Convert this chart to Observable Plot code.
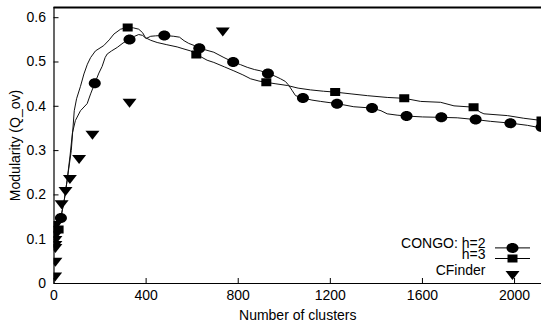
<!DOCTYPE html>
<html>
<head>
<meta charset="utf-8">
<script src="https://cdn.jsdelivr.net/npm/d3@7"></script>
<script src="https://cdn.jsdelivr.net/npm/@observablehq/plot@0.6"></script>
<style>
  html, body { margin: 0; padding: 0; background: #fff; }
  #chart svg { display: block; }
</style>
</head>
<body>
<div id="chart"></div>
<script>
// ---- data ----
const xTicks = [0, 400, 800, 1200, 1600, 2000];
const yTicks = [0, 0.1, 0.2, 0.3, 0.4, 0.5, 0.6];
const xMax = 2117;
const yMax = 0.623;

// CONGO h=2 curve
const h2X = [12, 30, 45, 57, 70, 80, 93, 115, 144, 159, 177, 195, 209, 222, 231, 250, 275, 300, 328, 350, 368, 385, 400, 420, 441, 479, 520, 545, 565, 585, 610, 631, 660, 694, 738, 778, 810, 839, 870, 897, 929, 960, 984, 1005, 1020, 1035, 1049, 1081, 1120, 1158, 1229, 1302, 1381, 1420, 1447, 1490, 1531, 1600, 1682, 1751, 1831, 1896, 1982, 2056, 2117];
const h2Y = [0.12, 0.148, 0.19, 0.233, 0.29, 0.34, 0.368, 0.39, 0.406, 0.428, 0.452, 0.475, 0.49, 0.51, 0.518, 0.525, 0.533, 0.543, 0.551, 0.558, 0.562, 0.56, 0.553, 0.558, 0.559, 0.56, 0.558, 0.556, 0.548, 0.542, 0.537, 0.531, 0.527, 0.522, 0.51, 0.5, 0.494, 0.488, 0.483, 0.48, 0.474, 0.468, 0.462, 0.456, 0.447, 0.435, 0.424, 0.419, 0.414, 0.411, 0.406, 0.399, 0.396, 0.39, 0.383, 0.38, 0.378, 0.376, 0.375, 0.374, 0.37, 0.366, 0.362, 0.357, 0.351];
// CONGO h=3 curve
const h3X = [12, 30, 45, 57, 75, 88, 98, 115, 130, 145, 159, 180, 216, 240, 260, 289, 320, 345, 368, 385, 397, 420, 448, 490, 535, 560, 593, 618, 637, 665, 694, 740, 781, 820, 854, 890, 922, 960, 1013, 1060, 1114, 1170, 1221, 1290, 1361, 1447, 1521, 1592, 1679, 1737, 1822, 1850, 1867, 1969, 2040, 2117];
const h3Y = [0.115, 0.15, 0.19, 0.233, 0.3, 0.39, 0.417, 0.445, 0.473, 0.495, 0.51, 0.525, 0.537, 0.55, 0.563, 0.574, 0.578, 0.577, 0.574, 0.566, 0.555, 0.549, 0.544, 0.539, 0.534, 0.53, 0.525, 0.517, 0.512, 0.504, 0.499, 0.489, 0.48, 0.471, 0.462, 0.457, 0.454, 0.451, 0.447, 0.441, 0.437, 0.434, 0.432, 0.428, 0.424, 0.42, 0.418, 0.411, 0.409, 0.401, 0.398, 0.387, 0.383, 0.379, 0.373, 0.368];

// point markers
const h2MarkX = [30, 177, 328, 479, 631, 778, 929, 1081, 1229, 1381, 1531, 1682, 1831, 1982, 2117];
const h2MarkY = [0.148, 0.452, 0.551, 0.56, 0.531, 0.5, 0.474, 0.419, 0.406, 0.396, 0.378, 0.375, 0.37, 0.362, 0.353];
const h3MarkX = [20, 320, 618, 922, 1221, 1521, 1822, 2117];
const h3MarkY = [0.122, 0.578, 0.517, 0.454, 0.432, 0.418, 0.398, 0.368];
const cfX = [5, 6, 6, 6, 6, 6, 7, 8, 33, 50, 69, 109, 167, 328, 733];
const cfY = [0.016, 0.049, 0.08, 0.087, 0.098, 0.109, 0.12, 0.132, 0.179, 0.209, 0.236, 0.281, 0.336, 0.408, 0.569];

const legendLabels = ["CONGO: h=2", "h=3", "CFinder"];

// ---- build tables ----
const zip = (xs, ys) => xs.map((x, i) => ({x, y: ys[i]}));
const h2Line = zip(h2X, h2Y), h3Line = zip(h3X, h3Y);
const h2Marks = zip(h2MarkX, h2MarkY), h3Marks = zip(h3MarkX, h3MarkY), cfMarks = zip(cfX, cfY);

// ---- custom marker shapes ----
const ellipse = {draw(ctx) {
  const rx = 6, ry = 5, k = 0.5523;
  ctx.moveTo(rx, 0);
  ctx.bezierCurveTo(rx, ry * k, rx * k, ry, 0, ry);
  ctx.bezierCurveTo(-rx * k, ry, -rx, ry * k, -rx, 0);
  ctx.bezierCurveTo(-rx, -ry * k, -rx * k, -ry, 0, -ry);
  ctx.bezierCurveTo(rx * k, -ry, rx, -ry * k, rx, 0);
  ctx.closePath();
}};
const box = {draw(ctx) {
  ctx.moveTo(-5, -4); ctx.lineTo(5, -4); ctx.lineTo(5, 4); ctx.lineTo(-5, 4); ctx.closePath();
}};
const triDown = {draw(ctx) {
  ctx.moveTo(-7, -4); ctx.lineTo(7, -4); ctx.lineTo(0, 5); ctx.closePath();
}};
const seg = {draw(ctx) { ctx.moveTo(-17.5, 0); ctx.lineTo(17.5, 0); }};

const W = 541, H = 324, mL = 53.5, mR = 0, mT = 7, mB = 41;
const innerW = W - mL - mR, innerH = H - mT - mB;
const ink = "#000";

const chart = Plot.plot({
  width: W, height: H,
  marginLeft: mL, marginRight: mR, marginTop: mT, marginBottom: mB,
  style: {fontFamily: "'Liberation Sans', Arial, Helvetica, sans-serif", fontSize: "14px", color: ink, background: "#fff"},
  x: {domain: [0, xMax]},
  y: {domain: [0, yMax]},
  marks: [
    Plot.axisX({ticks: xTicks, tickSize: 0, tickPadding: 7, tickFormat: d => String(d),
      label: "Number of clusters", labelAnchor: "center", labelOffset: 36, labelArrow: "none", fontSize: 14}),
    Plot.axisY({ticks: yTicks, tickSize: 0, tickPadding: 8, tickFormat: d => d === 0 ? "0" : d.toFixed(1),
      label: "Modularity (Q_ov)", labelAnchor: "center", labelOffset: 44, labelArrow: "none", fontSize: 14}),
    // inward tick marks
    Plot.tickX(xTicks, {x: d => d, insetTop: innerH - 5, stroke: ink, strokeWidth: 1}),
    Plot.tickY(yTicks, {y: d => d, insetRight: innerW - 5, stroke: ink, strokeWidth: 1}),
    // frame: left, bottom, top
    Plot.ruleX([0], {stroke: ink, strokeWidth: 1.2}),
    Plot.ruleY([0], {stroke: ink, strokeWidth: 1.2}),
    Plot.ruleY([yMax], {stroke: ink, strokeWidth: 1.8}),
    // curves
    Plot.line(h2Line, {x: "x", y: "y", stroke: "#111", strokeWidth: 1, clip: true}),
    Plot.line(h3Line, {x: "x", y: "y", stroke: "#111", strokeWidth: 1, clip: true}),
    // markers
    Plot.dot(cfMarks, {x: "x", y: "y", symbol: triDown, fill: ink, stroke: "none", clip: true}),
    Plot.dot(h2Marks, {x: "x", y: "y", symbol: ellipse, fill: ink, stroke: "none", clip: true}),
    Plot.dot(h3Marks, {x: "x", y: "y", symbol: box, fill: ink, stroke: "none", clip: true}),
    // legend
    Plot.text(legendLabels, {text: d => d, frameAnchor: "bottom-right", textAnchor: "end",
      dx: -56, dy: (d, i) => 0, fontSize: 14, fill: ink, filter: (d, i) => i === 0, dy: -35.6}),
    Plot.text(legendLabels, {text: d => d, frameAnchor: "bottom-right", textAnchor: "end",
      dx: -56, fontSize: 14, fill: ink, filter: (d, i) => i === 1, dy: -25}),
    Plot.text(legendLabels, {text: d => d, frameAnchor: "bottom-right", textAnchor: "end",
      dx: -56, fontSize: 14, fill: ink, filter: (d, i) => i === 2, dy: -8.5}),
    Plot.dot(legendLabels.slice(0, 1), {frameAnchor: "bottom-right", dx: -29, dy: -35.6, symbol: seg, fill: "none", stroke: ink, strokeWidth: 1}),
    Plot.dot(legendLabels.slice(0, 1), {frameAnchor: "bottom-right", dx: -29, dy: -35.6, symbol: ellipse, fill: ink, stroke: "none"}),
    Plot.dot(legendLabels.slice(1, 2), {frameAnchor: "bottom-right", dx: -29, dy: -25, symbol: seg, fill: "none", stroke: ink, strokeWidth: 1}),
    Plot.dot(legendLabels.slice(1, 2), {frameAnchor: "bottom-right", dx: -29, dy: -25, symbol: box, fill: ink, stroke: "none"}),
    Plot.dot(legendLabels.slice(2, 3), {frameAnchor: "bottom-right", dx: -29, dy: -8.5, symbol: triDown, fill: ink, stroke: "none"})
  ]
});
document.getElementById("chart").appendChild(chart);
</script>
</body>
</html>
